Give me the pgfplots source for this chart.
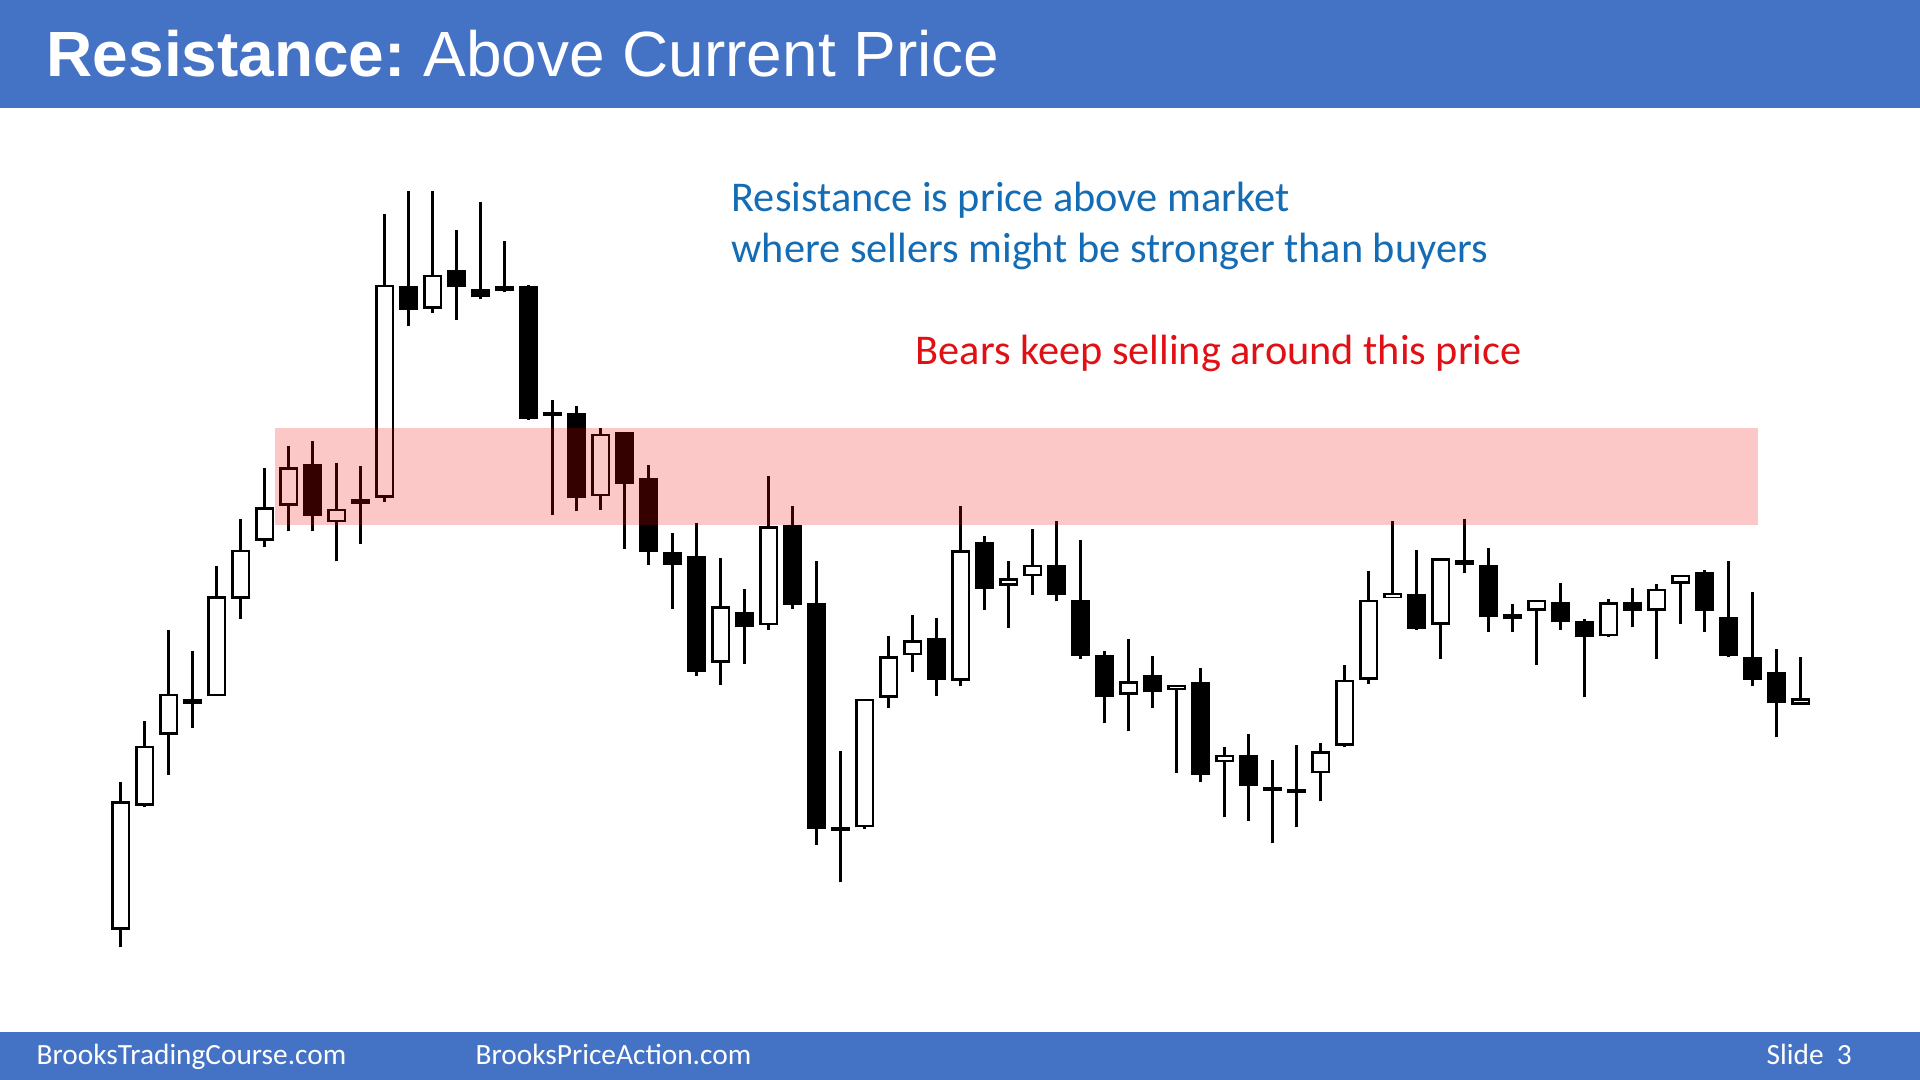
\documentclass[border=0pt]{standalone}
\usepackage{pgfplots}
\pgfplotsset{compat=1.18}
\usepackage{pgfplotstable}
\usepackage{fontspec}
\setmainfont{Carlito}
\newfontfamily\arialfont{Liberation Sans}
\definecolor{slideblue}{RGB}{68,114,196}
\definecolor{txtblue}{RGB}{20,108,180}
\definecolor{txtred}{RGB}{224,16,20}

% i = bar index, o = open, h = high, l = low, c = close
\pgfplotstableread{
i o h l c
1 150 297.5 132.5 278.5
2 274 359 272.5 334
3 345 450 305 386
4 378.5 429 351.5 378.5
5 383.5 514 383.5 483.5
6 481 561 461 530
7 539 611.5 532.5 572.5
8 574 634 548.5 612.5
9 616 639 548.5 564
10 557.5 616.5 518.5 571
11 578.5 613.5 536 578.5
12 582 866 577.5 795
13 794 889 753.5 770
14 771 889 767 805
15 810 850 760 792.5
16 791 877.5 781 782.5
17 791.5 838.5 787.5 791.5
18 794 795 660 661
19 666 679.5 565 666
20 667 673.5 568.5 581.5
21 583.5 651.5 570 646
22 648 648 531 596
23 601.5 614.5 515 528
24 527.5 547 471 515
25 523.5 557 403.5 407.5
26 417 521.5 395 473.5
27 467.5 491 416 452.5
28 455 603.5 450 553.5
29 555 573.5 471 475
30 477 519 235 251
31 251 328.5 197.5 251
32 252.5 381 251 381
33 382 444 371.5 423.5
34 424.5 465 407.5 439.5
35 441.5 461.5 384 400
36 399 573.5 393.5 529.5
37 537.5 544 470 491
38 494 519 452 501.5
39 503.5 551 485 515
40 515 559 478.5 485
41 480 540 421 423.5
42 424.5 429 356.5 382.5
43 385 441 348.5 398.5
44 405 424 371.5 387.5
45 390 395 307 395
46 397.5 411.5 297.5 305
47 317.5 332.5 262.5 325
48 325 346 259 294
49 291 320 236.5 291
50 289 335 252.5 289
51 306.5 336.5 278.5 328.5
52 334 415 332.5 400
53 400 509 396 480
54 481.5 558.5 481.5 486.5
55 486 530 450 451
56 455 521.5 421 521.5
57 517.5 561 506.5 517.5
58 515 531.5 447.5 462.5
59 463.5 476 447.5 463.5
60 469 480 415 480
61 477.5 497 450 457.5
62 458.5 461 382.5 442.5
63 443.5 481 442.5 477.5
64 477.5 491.5 452.5 469
65 469 496 421 491
66 496 505 456 505
67 507.5 510 447.5 469
68 462.5 519 422.5 423.5
69 422.5 487.5 393.5 400
70 407.5 431 342.5 376.5
71 375 422.5 375 381.5
}\candles

\begin{document}
\begin{tikzpicture}
\begin{axis}[
  at={(0,0)}, anchor=south west,
  width=19.2cm, height=10.8cm, scale only axis,
  xmin=0, xmax=1920, ymin=0, ymax=1080,
  hide axis, clip=false,
]
\fill[white] (axis cs:0,0) rectangle (axis cs:1920,1080);
\fill[slideblue] (axis cs:0,972) rectangle (axis cs:1920,1080);
\fill[slideblue] (axis cs:0,0) rectangle (axis cs:1920,48);

% wicks
\addplot[draw=none, mark=none, forget plot,
  error bars/.cd, y dir=plus, y explicit, error mark=none,
  error bar style={draw=black, line width=0.95pt}]
  table[x expr={120.7+24*(\thisrow{i}-1)}, y=l,
        y error expr={\thisrow{h}-\thisrow{l}}] {\candles};
% bodies (black)
\addplot[draw=none, mark=none, forget plot,
  error bars/.cd, y dir=plus, y explicit, error mark=none,
  error bar style={draw=black, line width=5.4pt}]
  table[x expr={120.7+24*(\thisrow{i}-1)},
        y expr={min(\thisrow{o},\thisrow{c})-max(0,(4.5-abs(\thisrow{o}-\thisrow{c}))/2)},
        y error expr={max(abs(\thisrow{o}-\thisrow{c}),4.5)}] {\candles};
% hollow interior of bull bars
\addplot[draw=none, mark=none, forget plot,
  error bars/.cd, y dir=plus, y explicit, error mark=none,
  error bar style={draw=white, line width=3.9pt}]
  table[x expr={120.7+24*(\thisrow{i}-1)},
        y expr={(\thisrow{o}+\thisrow{c})/2-max(\thisrow{c}-\thisrow{o}-5,1.5)/2},
        y error expr={(\thisrow{c}>\thisrow{o}) ? max(\thisrow{c}-\thisrow{o}-5,1.5) : 0}] {\candles};

% resistance zone
\addplot[draw=none, fill=red!93!black, fill opacity=0.22, forget plot]
  coordinates {(275,555) (1757.5,555) (1757.5,651.5) (275,651.5)} -- cycle;

\node[anchor=base west, inner sep=0, text=white,
  font=\arialfont\fontsize{18.2}{20}\selectfont] at (axis cs:46,1003)
  {\bfseries Resistance:\mdseries\ Above Current Price};
\node[anchor=base west, inner sep=0, text=txtblue,
  font=\fontsize{12.05}{14}\selectfont] at (axis cs:731,868)
  {Resistance is price above market};
\node[anchor=base west, inner sep=0, text=txtblue,
  font=\fontsize{12.05}{14}\selectfont] at (axis cs:731,817)
  {where sellers might be stronger than buyers};
\node[anchor=base west, inner sep=0, text=txtred,
  font=\fontsize{12.05}{14}\selectfont] at (axis cs:915,715)
  {Bears keep selling around this price};
\node[anchor=base west, inner sep=0, text=white,
  font=\fontsize{8.35}{10}\selectfont] at (axis cs:36,15.5)
  {BrooksTradingCourse.com};
\node[anchor=base west, inner sep=0, text=white,
  font=\fontsize{8.35}{10}\selectfont] at (axis cs:475,15.5)
  {BrooksPriceAction.com};
\node[anchor=base west, inner sep=0, text=white,
  font=\fontsize{8.35}{10}\selectfont] at (axis cs:1766,15.5)
  {Slide\ \ 3};
\end{axis}
\end{tikzpicture}
\end{document}
